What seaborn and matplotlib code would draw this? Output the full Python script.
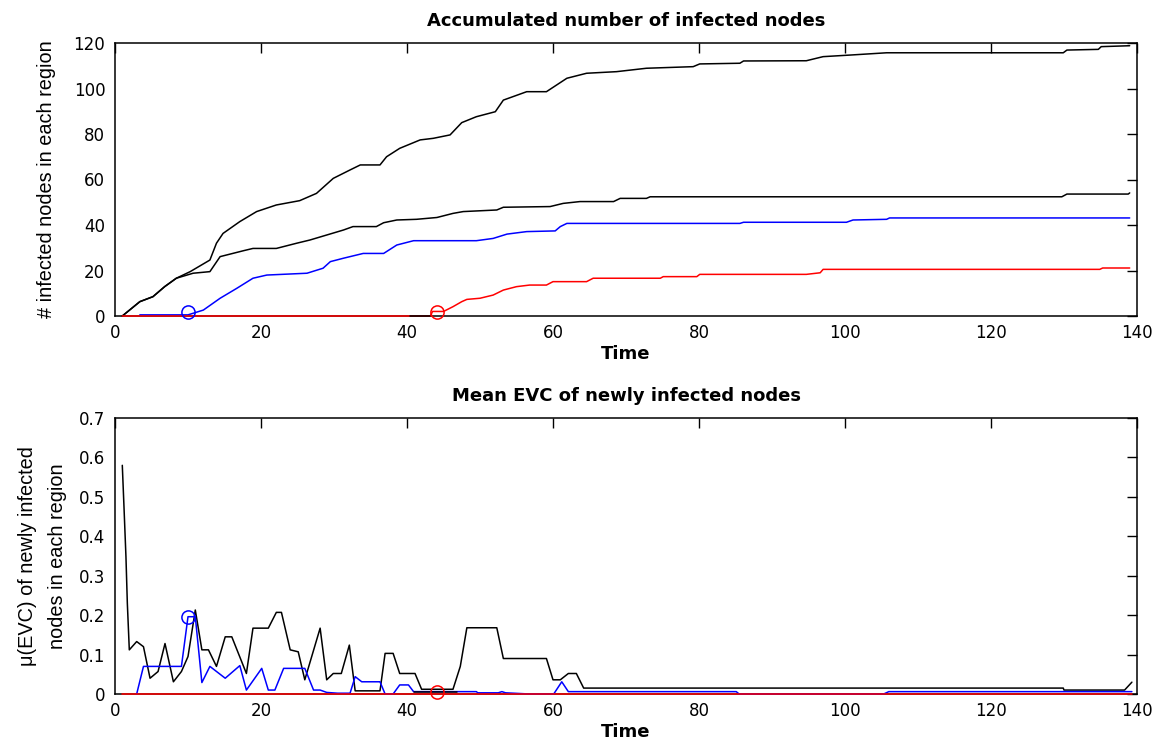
import matplotlib
matplotlib.use("Agg")
import matplotlib.pyplot as plt
import seaborn as sns

# ---------------- data ----------------
# Top panel: accumulated number of infected nodes
t_total = [1, 3.4, 5.2, 6.8, 8.4, 10.3, 13, 13.9, 14.8, 17.1, 19.4, 22.1, 25.3, 27.6, 29.9,
           32.2, 33.6, 36.3, 37.2, 39, 41.8, 43.6, 45.9, 47.5, 49.5, 52.1, 53.2, 56.4, 59.1,
           61.9, 64.6, 68.7, 72.8, 79.2, 80.1, 85.6, 86.1, 94.7, 97, 100.7, 105.7, 129.9,
           130.4, 134.7, 135.1, 139]
v_total = [0, 6.3, 8.5, 12.9, 16.6, 19.5, 24.6, 32, 36.3, 41.5, 45.9, 48.8, 50.7, 53.9, 60.5,
           64.2, 66.4, 66.4, 70, 73.7, 77.4, 78.1, 79.6, 85, 87.6, 89.8, 94.9, 98.6, 98.6,
           104.5, 106.7, 107.4, 108.9, 109.6, 110.8, 111.1, 112.1, 112.2, 114, 114.7, 115.7,
           115.7, 116.9, 117.2, 118.4, 118.8]

t_second = [1, 3.4, 5.2, 6.8, 8.4, 10.7, 13, 14.4, 17.6, 18.9, 22.1, 24.9, 26.7, 29, 31.3,
            32.6, 35.8, 36.8, 38.6, 41.3, 44.1, 46.3, 47.7, 52.3, 53.2, 59.6, 61.4, 63.7,
            68.3, 69.2, 72.8, 73.3, 129.7, 130.4, 138.8, 139]
v_second = [0, 6.3, 8.5, 12.9, 16.6, 18.8, 19.5, 26.1, 28.7, 29.7, 29.7, 32, 33.4, 35.6, 37.8,
            39.3, 39.3, 41, 42.2, 42.5, 43.3, 45.1, 45.9, 46.6, 47.8, 48.1, 49.5, 50.3,
            50.3, 51.7, 51.7, 52.4, 52.4, 53.6, 53.6, 54.1]

t_blue = [3.4, 10, 10.7, 12.1, 14.4, 16.7, 18.9, 20.8, 26.3, 28.5, 29.5, 31.3, 34, 36.8, 38.6,
          40.9, 49.5, 51.8, 53.7, 56.4, 60.3, 61, 61.9, 85.6, 86.1, 100.2, 101.1, 105.7,
          106.1, 139]
v_blue = [0.5, 0.5, 1.2, 2.6, 7.8, 12.2, 16.6, 18, 18.8, 21, 23.9, 25.4, 27.5, 27.5, 31.2,
          33.1, 33.1, 34.1, 36, 37.1, 37.4, 39.3, 40.7, 40.7, 41.2, 41.2, 42.2, 42.5,
          43.1, 43.1]

t_red = [1, 43.2, 43.5, 45, 46.3, 47.5, 48.2, 50, 51.8, 53.2, 55, 56.8, 59.1, 60, 64.6, 65.5,
         74.7, 75.1, 79.7, 80.1, 94.7, 96.6, 97, 134.9, 135.3, 139]
v_red = [0, 0, 2, 2, 4.1, 6.3, 7.3, 7.8, 9.2, 11.4, 12.9, 13.6, 13.6, 15.1, 15.1, 16.6,
         16.6, 17.3, 17.3, 18.3, 18.3, 19, 20.5, 20.5, 21.1, 21.1]

t_black_zero = [40.4, 43.2]
v_black_zero = [0, 0]

# first-infection markers (time, value)
mark_blue_top = (10, 1.6)
mark_red_top = (44.1, 1.8)

# Bottom panel: mean EVC of newly infected nodes
t_evc_black = [1, 1.23, 1.5, 1.69, 1.96, 2.97, 3.9, 4.8, 5.9, 6.85, 8, 9.1, 10, 11, 11.9,
               12.8, 13.9, 15.1, 16, 18, 18.9, 21, 22.1, 22.8, 24, 25.1, 26, 28.1, 29, 29.9,
               31, 32.1, 32.9, 36.3, 37, 38.1, 39, 41.1, 42, 46.3, 47.3, 48.2, 52.3, 53.2,
               59.1, 60, 61, 62.1, 63.2, 64.2, 129.9, 130, 138.3, 139.3]
v_evc_black = [0.58, 0.475, 0.348, 0.23, 0.112, 0.133, 0.12, 0.04, 0.057, 0.128, 0.031, 0.057,
               0.095, 0.213, 0.112, 0.112, 0.07, 0.145, 0.145, 0.052, 0.167, 0.167, 0.207,
               0.207, 0.112, 0.107, 0.036, 0.167, 0.036, 0.052, 0.052, 0.124, 0.008, 0.008,
               0.103, 0.103, 0.052, 0.052, 0.012, 0.012, 0.07, 0.168, 0.168, 0.09, 0.09,
               0.036, 0.036, 0.052, 0.052, 0.015, 0.015, 0.01, 0.01, 0.03]

t_evc_blue = [2.97, 3.9, 9.1, 10, 11, 11.9, 13, 15.1, 17.1, 18, 20.1, 21, 21.9, 23.1, 26, 27.2,
              28.1, 29, 30.5, 32.2, 32.9, 33.8, 36.3, 37, 38.1, 39, 40.2, 40.9, 49.5, 49.7,
              52.5, 53, 53.5, 56.8, 60.1, 61.2, 62.1, 85.1, 85.5, 105.3, 106, 139.3]
v_evc_blue = [0, 0.07, 0.07, 0.196, 0.196, 0.029, 0.07, 0.04, 0.072, 0.01, 0.065, 0.01, 0.01,
              0.065, 0.065, 0.01, 0.01, 0.004, 0.002, 0.002, 0.044, 0.031, 0.031, 0, 0,
              0.023, 0.023, 0.006, 0.006, 0.003, 0.003, 0.006, 0.003, 0, 0, 0.031, 0.006,
              0.006, 0, 0, 0.006, 0.006]

t_evc_red = [1, 139.3]
v_evc_red = [0, 0]

t_evc_black_zero = [40.9, 46.8]
v_evc_black_zero = [0.005, 0.005]

mark_blue_bot = (10, 0.196)
mark_red_bot = (44.1, 0.004)

x_ticks = [0, 20, 40, 60, 80, 100, 120, 140]
y_ticks_top = [0, 20, 40, 60, 80, 100, 120]
y_ticks_bot = [0, 0.1, 0.2, 0.3, 0.4, 0.5, 0.6, 0.7]

# ---------------- style ----------------
sns.set_style("white")
plt.rcParams["font.family"] = ["DejaVu Sans"]
plt.rcParams["text.color"] = "black"
plt.rcParams["axes.labelcolor"] = "black"
plt.rcParams["axes.titlecolor"] = "black"

fig = plt.figure(figsize=(11.65, 7.4), dpi=100)
ax1 = fig.add_axes([115 / 1165, 1 - 316 / 740, 1022 / 1165, 273 / 740])
ax2 = fig.add_axes([115 / 1165, 1 - 694 / 740, 1022 / 1165, 276 / 740])

LW = 1.1


def line(ax, x, y, c):
    sns.lineplot(x=x, y=y, ax=ax, color=c, linewidth=LW, estimator=None, sort=False,
                 zorder=3, clip_on=False)


def circle(ax, pt, c):
    ax.plot([pt[0]], [pt[1]], marker="o", markersize=9.5, markerfacecolor="none",
            markeredgecolor=c, markeredgewidth=1.1, linestyle="none", zorder=4, clip_on=False)


# top
line(ax1, t_total, v_total, "k")
line(ax1, t_second, v_second, "k")
line(ax1, t_blue, v_blue, "b")
line(ax1, t_red, v_red, "r")
line(ax1, t_black_zero, v_black_zero, "k")
circle(ax1, mark_blue_top, "b")
circle(ax1, mark_red_top, "r")

# bottom
line(ax2, t_evc_black, v_evc_black, "k")
line(ax2, t_evc_blue, v_evc_blue, "b")
line(ax2, t_evc_red, v_evc_red, "r")
line(ax2, t_evc_black_zero, v_evc_black_zero, "k")
circle(ax2, mark_blue_bot, "b")
circle(ax2, mark_red_bot, "r")

label_font = dict(family=["Liberation Sans", "DejaVu Sans"], fontsize=14.3, color="black")

for ax, yt, ylim in [(ax1, y_ticks_top, (0, 120)), (ax2, y_ticks_bot, (0, 0.7))]:
    ax.set_xlim(0, 140)
    ax.set_ylim(*ylim)
    ax.set_xticks(x_ticks)
    ax.set_yticks(yt)
    ax.tick_params(direction="in", length=7, width=1, top=True, right=True,
                   labelsize=12, colors="black")
    ax.tick_params(axis="y", pad=7)
    ax.tick_params(axis="x", pad=6)
    for s in ax.spines.values():
        s.set_color("black")
        s.set_linewidth(1.1)
    ax.set_xlabel("Time", fontsize=13, fontweight="bold", labelpad=2, color="black")

ax2.set_yticklabels([str(v) for v in y_ticks_bot])

ax1.set_title("Accumulated number of infected nodes", fontsize=13, fontweight="bold", pad=12,
              color="black")
ax2.set_title("Mean EVC of newly infected nodes", fontsize=13, fontweight="bold", pad=12,
              color="black")

ax1.set_ylabel("# infected nodes in each region", **label_font)
ax2.set_ylabel("\u03bc(EVC) of newly infected\nnodes in each region", linespacing=1.75,
               **label_font)
ax1.yaxis.set_label_coords(-0.058, 0.5)
ax2.yaxis.set_label_coords(-0.0466, 0.5)

fig.savefig("out.png", dpi=100)
